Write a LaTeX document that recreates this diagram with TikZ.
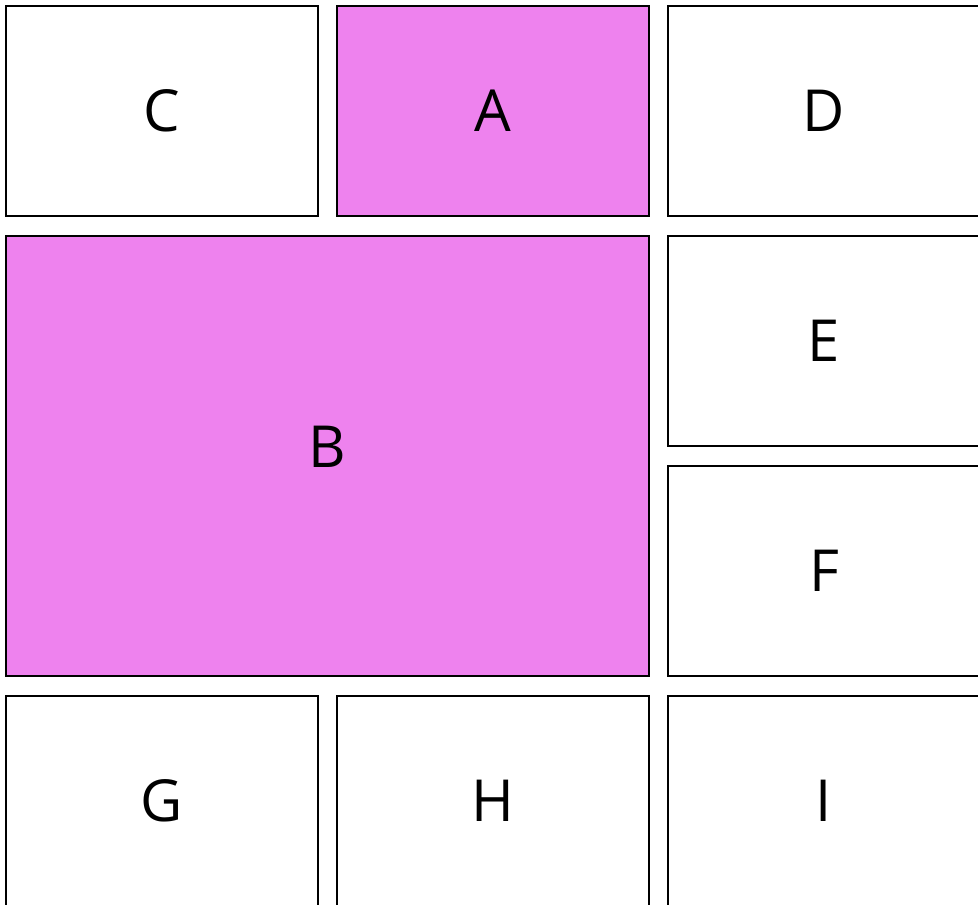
\documentclass[tikz,border=0pt]{standalone}
\usepackage{fontspec}
\setmainfont{Open Sans}
\definecolor{boxviolet}{HTML}{EE82EE}
\begin{document}
\begin{tikzpicture}[
        x=0.02cm, y=-0.02cm,
        cell/.style={draw, line width=1.1pt, inner sep=0pt, font=\fontsize{33}{40}\selectfont,
            minimum width=6.24cm, minimum height=4.2cm},
        picked/.style={cell, fill=boxviolet},
        wide/.style={minimum width=12.86cm, minimum height=8.8cm, text depth=0.36cm}
    ]

        % Page
        \useasboundingbox (0,0) rectangle (978,904);

        % Top row
        \node[cell] (C) at (162,111) {C};
        \node[picked] (A) at (493,111) {A};
        \node[cell] (D) at (824,111) {D};

        % Middle block
        \node[picked, wide] (B) at (327.5,456) {B};
        \node[cell] (E) at (824,341) {E};
        \node[cell] (F) at (824,571) {F};

        % Bottom row
        \node[cell] (G) at (162,801) {G};
        \node[cell] (H) at (493,801) {H};
        \node[cell] (I) at (824,801) {I};

    \end{tikzpicture}
\end{document}
